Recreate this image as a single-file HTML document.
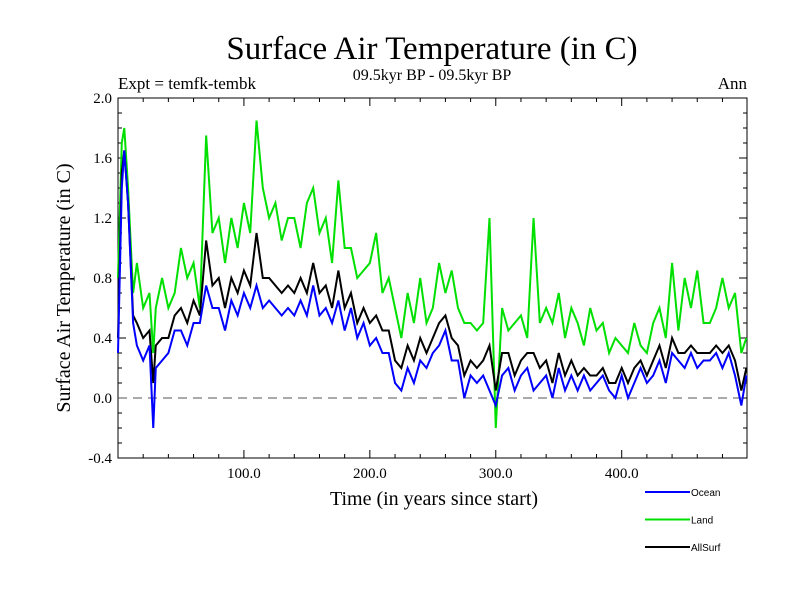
<!DOCTYPE html>
<html><head><meta charset="utf-8"><style>body{margin:0;background:#fff}svg{display:block}</style></head>
<body>
<svg id="c" width="800" height="600" xmlns="http://www.w3.org/2000/svg" font-family="Liberation Serif, serif">
<text x="432" y="59" font-size="33" text-anchor="middle">Surface Air Temperature (in C)</text>
<text x="432" y="80" font-size="16" text-anchor="middle">09.5kyr BP - 09.5kyr BP</text>
<text x="118" y="89" font-size="17">Expt = temfk-tembk</text>
<text x="747" y="89" font-size="17" text-anchor="end">Ann</text>
<text x="434" y="505" font-size="20" text-anchor="middle">Time (in years since start)</text>
<text transform="translate(70,288) rotate(-90)" font-size="20" text-anchor="middle">Surface Air Temperature (in C)</text>
<g id="ax"></g>
<g id="series"></g>
<g id="legend" font-family="Liberation Sans, sans-serif" font-size="10"></g>
</svg>
<script>
const years=[0,3,5,8,12,15,20,25,28,30,35,40,45,50,55,60,65,70,75,80,85,90,95,100,105,110,115,120,125,130,135,140,145,150,155,160,165,170,175,180,185,190,195,200,205,210,215,220,225,230,235,240,245,250,255,260,265,270,275,280,285,290,295,300,305,310,315,320,325,330,335,340,345,350,355,360,365,370,375,380,385,390,395,400,405,410,415,420,425,430,435,440,445,450,455,460,465,470,475,480,485,490,495,499];
const ocean=[0.3,1.4,1.65,1.3,0.5,0.35,0.25,0.35,-0.2,0.2,0.25,0.3,0.45,0.45,0.35,0.5,0.5,0.75,0.6,0.6,0.45,0.65,0.55,0.7,0.6,0.75,0.6,0.65,0.6,0.55,0.6,0.55,0.65,0.55,0.75,0.55,0.6,0.5,0.65,0.45,0.6,0.4,0.5,0.35,0.4,0.3,0.3,0.1,0.05,0.2,0.1,0.25,0.2,0.3,0.35,0.45,0.25,0.25,0.0,0.15,0.1,0.15,0.05,-0.05,0.15,0.2,0.05,0.15,0.2,0.05,0.1,0.15,0.0,0.2,0.05,0.15,0.05,0.15,0.05,0.1,0.15,0.05,0.0,0.15,0.0,0.1,0.2,0.1,0.15,0.25,0.1,0.3,0.25,0.2,0.3,0.2,0.25,0.25,0.3,0.2,0.3,0.15,-0.05,0.15];
const land=[0.8,1.7,1.8,1.4,0.7,0.9,0.6,0.7,0.3,0.6,0.8,0.6,0.7,1.0,0.8,0.9,0.6,1.75,1.1,1.2,0.9,1.2,1.0,1.3,1.1,1.85,1.4,1.2,1.3,1.05,1.2,1.2,1.0,1.3,1.4,1.1,1.2,0.9,1.45,1.0,1.0,0.8,0.85,0.9,1.1,0.7,0.8,0.6,0.4,0.7,0.5,0.8,0.5,0.6,0.9,0.7,0.85,0.6,0.5,0.5,0.45,0.5,1.2,-0.2,0.6,0.45,0.5,0.55,0.4,1.2,0.5,0.6,0.5,0.7,0.4,0.6,0.5,0.35,0.6,0.45,0.5,0.3,0.4,0.35,0.3,0.5,0.35,0.3,0.5,0.6,0.4,0.9,0.45,0.8,0.6,0.85,0.5,0.5,0.6,0.8,0.6,0.7,0.3,0.4];
const allsurf=[0.4,1.5,1.65,1.3,0.55,0.5,0.4,0.45,0.1,0.35,0.4,0.4,0.55,0.6,0.5,0.65,0.55,1.05,0.75,0.8,0.6,0.8,0.7,0.85,0.75,1.1,0.8,0.8,0.75,0.7,0.75,0.7,0.8,0.7,0.9,0.7,0.75,0.6,0.85,0.6,0.7,0.5,0.6,0.5,0.55,0.45,0.45,0.25,0.2,0.35,0.25,0.4,0.3,0.4,0.5,0.55,0.4,0.35,0.15,0.25,0.2,0.25,0.35,0.05,0.3,0.3,0.15,0.25,0.3,0.3,0.2,0.25,0.1,0.3,0.15,0.25,0.15,0.2,0.15,0.15,0.2,0.1,0.1,0.2,0.1,0.2,0.25,0.15,0.25,0.35,0.2,0.4,0.3,0.3,0.35,0.3,0.3,0.3,0.35,0.3,0.35,0.25,0.05,0.2];
const yTicks=[-0.4,0.0,0.4,0.8,1.2,1.6,2.0];
const xTicks=[100,200,300,400];
const seriesNames=["Ocean","Land","AllSurf"];
const NS="http://www.w3.org/2000/svg";
const X0=118,X1=747,Y0=98,Y1=458,XMAX=499.5;
const sx=v=>X0+(v/XMAX)*(X1-X0);
const sy=v=>Y0+(2.0-v)/2.4*(Y1-Y0);
function mk(tag,attrs,parent){const e=document.createElementNS(NS,tag);for(const k in attrs)e.setAttribute(k,attrs[k]);parent.appendChild(e);return e;}
const ax=document.getElementById('ax');
const frame=mk('rect',{x:X0,y:Y0,width:X1-X0,height:Y1-Y0,fill:'none',stroke:'#000','stroke-width':1},ax);


for(let v=-0.4;v<=2.001;v+=0.1){const y=sy(v);const major=Math.abs(Math.round(v*10)%4)===0;const L=major?8:4;
mk('line',{x1:X0,x2:X0+L,y1:y,y2:y,stroke:'#000'},ax);mk('line',{x1:X1,x2:X1-L,y1:y,y2:y,stroke:'#000'},ax);}
for(let v=20;v<XMAX;v+=20){const x=sx(v);const L=v%100===0?8:4;
mk('line',{x1:x,x2:x,y1:Y1,y2:Y1-L,stroke:'#000'},ax);mk('line',{x1:x,x2:x,y1:Y0,y2:Y0+L,stroke:'#000'},ax);}
yTicks.forEach(v=>{const t=mk('text',{x:X0-6,y:sy(v)+5,'font-size':15,'text-anchor':'end'},ax);t.textContent=v.toFixed(1);

});
xTicks.forEach(v=>{const t=mk('text',{x:sx(v),y:Y1+20,'font-size':15,'text-anchor':'middle'},ax);t.textContent=v.toFixed(1);

});
const zl=mk('line',{x1:X0,x2:X1,y1:sy(0),y2:sy(0),stroke:'#555','stroke-dasharray':'9,6'},ax);


const sg=document.getElementById('series');
const data=[land,allsurf,ocean],cols=['#00e000','#000','#0000ff'],names=['land-series','allsurf-series','ocean-series'];
data.forEach((d,i)=>{const p=mk('polyline',{points:d.map((v,j)=>sx(years[j])+','+sy(v)).join(' '),fill:'none',stroke:cols[i],'stroke-width':2},sg);

});
const lg=document.getElementById('legend');const lc=['#0000ff','#00e000','#000'];
seriesNames.forEach((n,i)=>{const y=492+i*27.5;
const g=mk('g',{},lg);


mk('line',{x1:645,x2:690,y1:y,y2:y,stroke:lc[i],'stroke-width':2},g);
const t=mk('text',{x:691,y:y+4},g);t.textContent=n;});
</script>
</body></html>
